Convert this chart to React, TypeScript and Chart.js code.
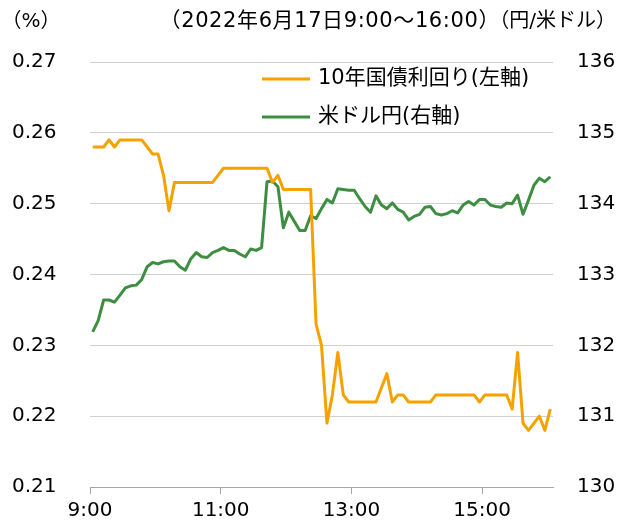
import React, { useEffect, useRef } from "react";
import { Chart, registerables } from "chart.js";

Chart.register(...registerables);

const W = 619;
const H = 526;
const FONT_LATIN = '"DejaVu Sans", Verdana, sans-serif';
const FONT_JP = '"DejaVu Sans", "Noto Sans CJK JP", sans-serif';

// 5-minute observations, 9:00 .. 16:00
const intervalMinutes = 5;
const xTickMinutes = [0, 120, 240, 360];
const xTickLabels = ["9:00", "11:00", "13:00", "15:00"];

const titleText = "（2022年6月17日9:00～16:00）";
const leftUnit = "（%）";
const rightUnit = "（円/米ドル）";

const yieldLabel = "10年国債利回り(左軸)";
const fxLabel = "米ドル円(右軸)";

const yieldValues = [
  0.258, 0.258, 0.258, 0.259, 0.258, 0.259, 0.259, 0.259, 0.259, 0.259,
  0.258, 0.257, 0.257, 0.254, 0.249, 0.253, 0.253, 0.253, 0.253, 0.253,
  0.253, 0.253, 0.253, 0.254, 0.255, 0.255, 0.255, 0.255, 0.255, 0.255,
  0.255, 0.255, 0.255, 0.253, 0.254, 0.252, 0.252, 0.252, 0.252, 0.252,
  0.252, 0.233, 0.230, 0.219, 0.223, 0.229, 0.223, 0.222, 0.222, 0.222,
  0.222, 0.222, 0.222, 0.224, 0.226, 0.222, 0.223, 0.223, 0.222, 0.222,
  0.222, 0.222, 0.222, 0.223, 0.223, 0.223, 0.223, 0.223, 0.223, 0.223,
  0.223, 0.222, 0.223, 0.223, 0.223, 0.223, 0.223, 0.221, 0.229, 0.219,
  0.218, 0.219, 0.220, 0.218, 0.221,
];

const fxValues = [
  132.19, 132.35, 132.64, 132.64, 132.61, 132.71, 132.81, 132.84, 132.85, 132.93,
  133.11, 133.17, 133.15, 133.18, 133.19, 133.19, 133.11, 133.06, 133.22, 133.31,
  133.25, 133.24, 133.31, 133.34, 133.38, 133.34, 133.34, 133.29, 133.25, 133.36,
  133.34, 133.38, 134.31, 134.32, 134.24, 133.66, 133.88, 133.75, 133.62, 133.62,
  133.83, 133.79, 133.93, 134.06, 134.01, 134.21, 134.20, 134.19, 134.19, 134.07,
  133.96, 133.88, 134.11, 133.98, 133.93, 134.01, 133.92, 133.88, 133.77, 133.82,
  133.85, 133.95, 133.96, 133.86, 133.84, 133.86, 133.90, 133.87, 133.98, 134.03,
  133.98, 134.06, 134.06, 133.98, 133.96, 133.95, 134.01, 134.00, 134.12, 133.85,
  134.05, 134.26, 134.36, 134.31, 134.38,
];

const ORANGE = "#F5A200";
const GREEN = "#3E8E41";

const overlayPlugin = {
  id: "overlay",
  afterDraw(chart: any) {
    const ctx = chart.ctx;
    ctx.save();
    ctx.fillStyle = "#000";
    ctx.textBaseline = "middle";
    ctx.font = `20px ${FONT_JP}`;
    ctx.textAlign = "center";
    ctx.fillText(leftUnit, 31, 22);
    ctx.textAlign = "right";
    ctx.fillText(rightUnit, 616, 22);
    ctx.font = `21px ${FONT_JP}`;
    try {
      (ctx as any).letterSpacing = "0.6px";
    } catch (e) {}
    ctx.fillText(titleText, 500, 22);
    try {
      (ctx as any).letterSpacing = "0px";
    } catch (e) {}

    // legend
    ctx.font = `21px ${FONT_JP}`;
    ctx.textAlign = "left";
    const items = [
      { label: yieldLabel, color: ORANGE, y: 79 },
      { label: fxLabel, color: GREEN, y: 117 },
    ];
    for (const it of items) {
      ctx.strokeStyle = it.color;
      ctx.lineWidth = 3;
      ctx.beginPath();
      ctx.moveTo(262, it.y);
      ctx.lineTo(310, it.y);
      ctx.stroke();
      ctx.fillText(it.label, 318, it.y);
    }
    ctx.restore();
  },
};

export default function App() {
  const ref = useRef<HTMLCanvasElement | null>(null);

  useEffect(() => {
    if (!ref.current) return;
    const half = intervalMinutes / 2;
    const lastX = (yieldValues.length - 1) * intervalMinutes;
    const chart = new Chart(ref.current, {
      type: "line",
      data: {
        datasets: [
          {
            label: yieldLabel,
            data: yieldValues.map((v, i) => ({ x: i * intervalMinutes, y: v })),
            borderColor: ORANGE,
            backgroundColor: ORANGE,
            borderWidth: 3,
            pointRadius: 0,
            tension: 0,
            yAxisID: "y",
            borderJoinStyle: "round",
          },
          {
            label: fxLabel,
            data: fxValues.map((v, i) => ({ x: i * intervalMinutes, y: v })),
            borderColor: GREEN,
            backgroundColor: GREEN,
            borderWidth: 3,
            pointRadius: 0,
            tension: 0,
            yAxisID: "y1",
            borderJoinStyle: "round",
          },
        ],
      },
      options: {
        responsive: false,
        animation: false,
        devicePixelRatio: 1,
        layout: { padding: { top: 62, left: 12, right: 0, bottom: 0 } },
        plugins: {
          legend: { display: false },
          title: { display: false },
          tooltip: { enabled: false },
        },
        scales: {
          x: {
            type: "linear",
            min: -half,
            max: lastX + half,
            afterBuildTicks: (s: any) => {
              s.ticks = xTickMinutes.map((m) => ({ value: m - half }));
            },
            ticks: {
              autoSkip: false,
              maxRotation: 0,
              padding: 5,
              color: "#000",
              font: { family: FONT_LATIN, size: 20 },
              callback: (v: any) => {
                const idx = xTickMinutes.indexOf(Math.round(Number(v) + half));
                return idx >= 0 ? xTickLabels[idx] : "";
              },
            },
            grid: {
              drawOnChartArea: false,
              drawTicks: true,
              tickLength: 7,
              color: "#A6A6A6",
            },
            border: { display: true, color: "#A6A6A6", width: 1 },
            afterFit: (s: any) => {
              s.height = H - 487;
            },
          },
          y: {
            position: "left",
            min: 0.21,
            max: 0.27,
            ticks: {
              stepSize: 0.01,
              padding: 0,
              crossAlign: "far",
              color: "#000",
              font: { family: FONT_LATIN, size: 20 },
              callback: (v: any) => Number(v).toFixed(2),
            },
            grid: { color: "#D0D0D0", drawTicks: false, lineWidth: 1 },
            border: { display: false },
            afterFit: (s: any) => {
              s.width = 90 - 12;
            },
          },
          y1: {
            position: "right",
            min: 130,
            max: 136,
            ticks: {
              stepSize: 1,
              padding: 24,
              color: "#000",
              font: { family: FONT_LATIN, size: 20 },
              callback: (v: any) => String(v),
            },
            grid: { drawOnChartArea: false, drawTicks: false },
            border: { display: false },
            afterFit: (s: any) => {
              s.width = W - 553;
            },
          },
        },
      } as any,
      plugins: [overlayPlugin],
    });
    return () => chart.destroy();
  }, []);

  return (
    <div style={{ position: "absolute", left: 0, top: 0, width: W, height: H, background: "#fff" }}>
      <canvas ref={ref} width={W} height={H} style={{ display: "block", width: W, height: H }} />
    </div>
  );
}
